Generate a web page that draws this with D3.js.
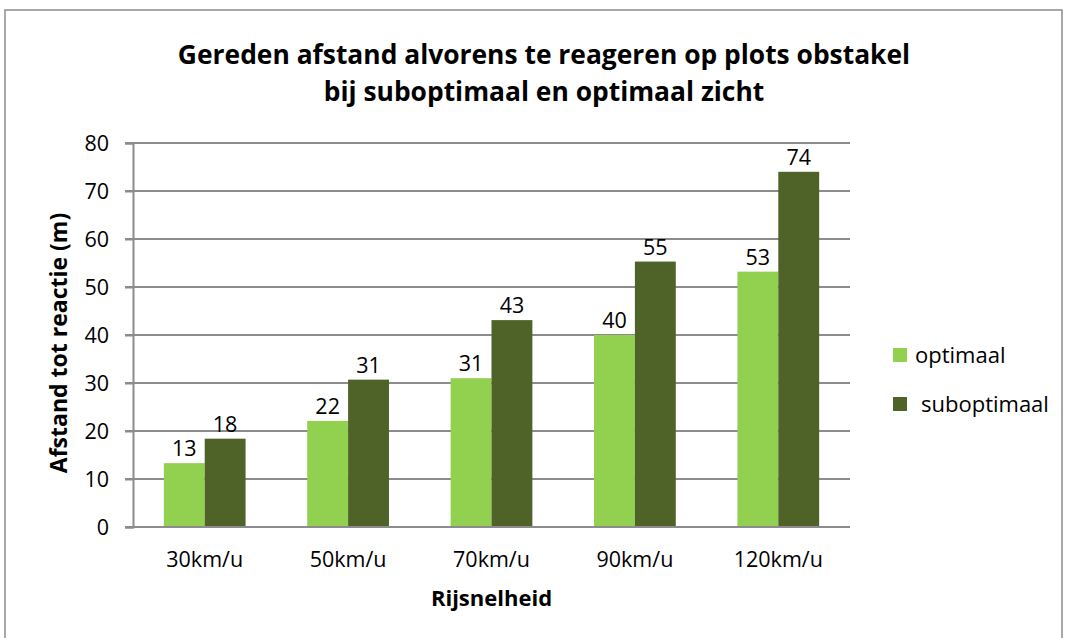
<!DOCTYPE html>
<html>
<head>
    <title>Gereden afstand</title>
    <script src="https://d3js.org/d3.v7.min.js"></script>
    <style>
        body { margin: 0; background: #fff; }
        text { font-family: "Open Sans", sans-serif; fill: #000; }
        .tick text { font-size: 21.5px; }
        .grid line { stroke: #8c8c8c; stroke-width: 2; }
    </style>
</head>
<body>
    <svg width="1069" height="638"></svg>
    <script>
        // data
        const categories = ["30km/u", "50km/u", "70km/u", "90km/u", "120km/u"];
        const seriesNames = ["optimaal", "suboptimaal"];
        const optimaal = [13.3, 22.1, 31.0, 40.0, 53.2];
        const suboptimaal = [18.4, 30.7, 43.1, 55.3, 74.0];
        const yTicks = [0, 10, 20, 30, 40, 50, 60, 70, 80];
        const colors = ["#92d050", "#4f6228"];

        const svg = d3.select("svg");

        // outer frame
        svg.append("rect")
            .attr("x", 5).attr("y", 10)
            .attr("width", 1057).attr("height", 640)
            .attr("fill", "none")
            .attr("stroke", "#8c8c8c")
            .attr("stroke-width", 1.5);

        const plot = { left: 133, right: 850, top: 143, bottom: 527 };

        const x0 = d3.scaleBand()
            .domain(categories)
            .range([plot.left, plot.right])
            .paddingInner(0.43)
            .paddingOuter(0.215);

        const x1 = d3.scaleBand()
            .domain(seriesNames)
            .range([0, x0.bandwidth()]);

        const y = d3.scaleLinear()
            .domain([0, 80])
            .range([plot.bottom, plot.top]);

        // gridlines
        svg.append("g")
            .attr("class", "grid")
            .selectAll("line")
            .data(yTicks)
            .enter().append("line")
            .attr("x1", plot.left - 8)
            .attr("x2", plot.right)
            .attr("y1", d => y(d))
            .attr("y2", d => y(d));

        // y axis
        const yAxis = svg.append("g")
            .attr("transform", `translate(${plot.left},0)`)
            .call(d3.axisLeft(y).tickValues(yTicks).tickSize(8).tickPadding(16));
        yAxis.select(".domain").attr("stroke", "#8c8c8c").attr("stroke-width", 2);
        yAxis.selectAll(".tick line").attr("stroke", "#8c8c8c").attr("stroke-width", 2);
        yAxis.selectAll(".tick text").attr("dy", "0.36em");

        // bars
        const rows = categories.map((c, i) => ({ cat: c, vals: [optimaal[i], suboptimaal[i]] }));

        const groups = svg.selectAll(".grp")
            .data(rows)
            .enter().append("g")
            .attr("class", "grp")
            .attr("transform", d => `translate(${x0(d.cat)},0)`);

        groups.selectAll("rect")
            .data(d => d.vals.map((v, j) => ({ key: seriesNames[j], v: v, j: j })))
            .enter().append("rect")
            .attr("x", d => x1(d.key))
            .attr("width", x1.bandwidth())
            .attr("y", d => y(d.v))
            .attr("height", d => y(0) - y(d.v))
            .attr("fill", d => colors[d.j]);

        groups.selectAll(".lbl")
            .data(d => d.vals.map((v, j) => ({ key: seriesNames[j], v: v })))
            .enter().append("text")
            .attr("class", "lbl")
            .attr("x", d => x1(d.key) + x1.bandwidth() / 2)
            .attr("y", d => y(d.v) - 7)
            .attr("text-anchor", "middle")
            .style("font-size", "21.5px")
            .text(d => Math.round(d.v));

        // x axis
        svg.append("line")
            .attr("x1", plot.left - 8).attr("x2", plot.right)
            .attr("y1", y(0)).attr("y2", y(0))
            .attr("stroke", "#8c8c8c").attr("stroke-width", 2);

        svg.selectAll(".xlbl")
            .data(categories)
            .enter().append("text")
            .attr("class", "xlbl")
            .attr("x", d => x0(d) + x0.bandwidth() / 2)
            .attr("y", 567)
            .attr("text-anchor", "middle")
            .style("font-size", "21.5px")
            .text(d => d);

        // axis titles
        svg.append("text")
            .attr("x", (plot.left + plot.right) / 2)
            .attr("y", 606)
            .attr("text-anchor", "middle")
            .style("font-size", "22px")
            .style("font-weight", "bold")
            .text("Rijsnelheid");

        svg.append("text")
            .attr("transform", "translate(67,343) rotate(-90)")
            .attr("text-anchor", "middle")
            .style("font-size", "23px")
            .style("font-weight", "bold")
            .text("Afstand tot reactie (m)");

        // title
        const title = svg.append("text")
            .attr("text-anchor", "middle")
            .style("font-size", "26.4px")
            .style("font-weight", "bold");
        title.append("tspan").attr("x", 544).attr("y", 64)
            .text("Gereden afstand alvorens te reageren op plots obstakel");
        title.append("tspan").attr("x", 544).attr("y", 101)
            .text("bij suboptimaal en optimaal zicht");

        // legend
        const legend = svg.selectAll(".leg")
            .data(seriesNames)
            .enter().append("g")
            .attr("class", "leg")
            .attr("transform", (d, i) => `translate(893,${348 + i * 49})`);
        legend.append("rect")
            .attr("width", 14).attr("height", 14)
            .attr("fill", (d, i) => colors[i]);
        legend.append("text")
            .attr("x", (d, i) => i === 0 ? 22 : 28)
            .attr("y", 15)
            .style("font-size", "22px")
            .text(d => d);
    </script>
</body>
</html>
